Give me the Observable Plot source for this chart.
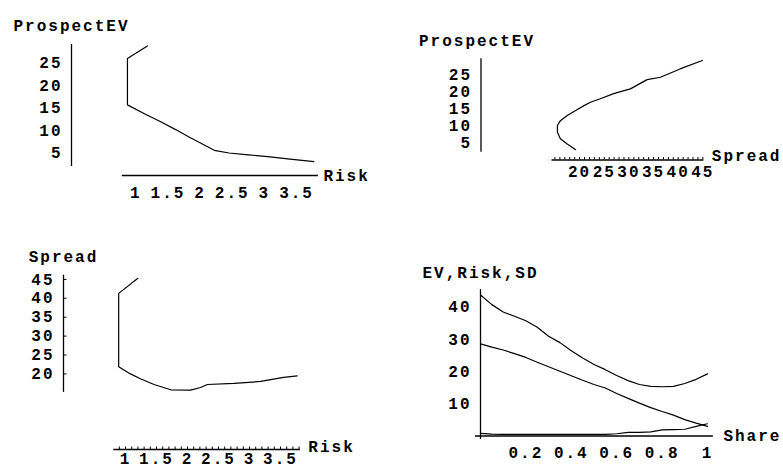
<!DOCTYPE html>
<html><head><meta charset="utf-8">
<script src="https://cdn.jsdelivr.net/npm/d3@7"></script>
<script src="https://cdn.jsdelivr.net/npm/@observablehq/plot@0.6"></script>
<style>
html,body{margin:0;padding:0;background:#fff;}
#wrap{position:relative;width:783px;height:468px;overflow:hidden;background:#fff;}
#wrap svg{position:absolute;left:0;top:0;}
</style></head><body><div id="wrap"></div>
<script>
// ---- Panel 1: ProspectEV vs Risk ----
const p1Risk = [1.18, 0.87, 0.87, 1.15, 1.38, 1.62, 1.82, 2.05, 2.22, 2.45, 2.75, 3.05, 3.40, 3.77];
const p1EV   = [28.8, 26.0, 15.7, 13.6, 12.0, 10.2, 8.6, 6.9, 5.6, 5.0, 4.6, 4.2, 3.65, 3.1];
const p1XTicks = [1, 1.5, 2, 2.5, 3, 3.5];
const p1XLabels = ["1", "1.5", "2", "2.5", "3", "3.5"];
const p1YTicks = [5, 10, 15, 20, 25];
const p1YLabels = ["5", "10", "15", "20", "25"];

// ---- Panel 2: ProspectEV vs Spread ----
const p2Spread = [44.9, 40.5, 36.4, 33.7, 30.3, 26.9, 24.2, 22.2, 20.9, 19.2, 17.5, 16.1, 15.5, 15.5, 16.1, 17.5, 19.2];
const p2EV     = [29.1, 26.7, 24.2, 23.5, 20.8, 19.4, 17.9, 16.9, 15.9, 14.5, 13.0, 11.5, 10.1, 8.1, 6.2, 4.7, 3.0];
const p2XTicks = [20, 25, 30, 35, 40, 45];
const p2XLabels = ["20", "25", "30", "35", "40", "45"];
const p2MinorTicks = [15,16,17,18,19,20,21,22,23,24,25,26,27,28,29,30,31,32,33,34,35,36,37,38,39,40,41,42,43,44,45];
const p2YTicks = [5, 10, 15, 20, 25];
const p2YLabels = ["5", "10", "15", "20", "25"];

// ---- Panel 3: Spread vs Risk ----
const p3Risk   = [1.20, 0.89, 0.89, 1.08, 1.24, 1.46, 1.73, 2.05, 2.21, 2.32, 2.75, 3.18, 3.55, 3.77];
const p3Spread = [45.3, 41.3, 21.9, 20.0, 18.7, 17.2, 15.8, 15.7, 16.4, 17.2, 17.5, 18.0, 19.1, 19.5];
const p3XTicks = [1, 1.5, 2, 2.5, 3, 3.5];
const p3XLabels = ["1", "1.5", "2", "2.5", "3", "3.5"];
const p3MinorTicks = [0.9,1.0,1.1,1.2,1.3,1.4,1.5,1.6,1.7,1.8,1.9,2.0,2.1,2.2,2.3,2.4,2.5,2.6,2.7,2.8,2.9,3.0,3.1,3.2,3.3,3.4,3.5,3.6,3.7,3.8];
const p3YTicks = [20, 25, 30, 35, 40, 45];
const p3YLabels = ["20", "25", "30", "35", "40", "45"];

// ---- Panel 4: EV, Risk, SD vs Share ----
const p4Share = [0, 0.05, 0.1, 0.15, 0.2, 0.25, 0.3, 0.35, 0.4, 0.45, 0.5, 0.55, 0.6, 0.65, 0.7, 0.75, 0.8, 0.85, 0.9, 0.95, 1.0];
const p4SD    = [43.8, 40.8, 38.5, 37.2, 35.8, 33.8, 31.0, 29.0, 26.5, 24.2, 22.2, 20.6, 18.8, 17.2, 16.0, 15.4, 15.3, 15.4, 16.3, 17.6, 19.3];
const p4EV    = [28.6, 27.6, 26.7, 25.6, 24.4, 22.9, 21.5, 20.1, 18.7, 17.3, 16.0, 14.9, 13.2, 11.7, 10.2, 8.8, 7.6, 6.5, 5.1, 4.0, 3.0];
const p4Risk  = [0.8, 0.6, 0.5, 0.5, 0.5, 0.5, 0.5, 0.5, 0.5, 0.5, 0.5, 0.5, 0.7, 1.1, 1.1, 1.3, 1.9, 2.0, 2.1, 3.0, 3.8];
const p4XTicks = [0.2, 0.4, 0.6, 0.8, 1];
const p4XLabels = ["0.2", "0.4", "0.6", "0.8", "1"];
const p4YTicks = [10, 20, 30, 40];
const p4YLabels = ["10", "20", "30", "40"];

const FONT = "font-family:'Liberation Mono','DejaVu Sans Mono',monospace;font-weight:bold;font-size:16px;letter-spacing:2px;";

function panel(cfg) {
  const [x0, x1] = cfg.xAxis;   // x-axis extent (data units)
  const [y0, y1] = cfg.yAxis;   // y-axis extent (data units)
  const pxPerY = Math.abs(cfg.yRange[0] - cfg.yRange[1]) / Math.abs(cfg.yDomain[1] - cfg.yDomain[0]);
  const pxPerX = Math.abs(cfg.xRange[1] - cfg.xRange[0]) / Math.abs(cfg.xDomain[1] - cfg.xDomain[0]);
  const marks = [
    Plot.ruleY([0], {x1: x0, x2: x1, stroke: "black", strokeWidth: 1.3}),
    Plot.ruleX([0], {y1: y0, y2: y1, stroke: "black", strokeWidth: 1.3})
  ];
  if (cfg.minorX) {
    marks.push(Plot.ruleX(cfg.minorX, {x: d => d, y1: 0, y2: 2.5 / pxPerY, stroke: "black", strokeWidth: 1}));
  }
  if (cfg.yTickMarks) {
    marks.push(Plot.ruleY(cfg.yTicks, {y: d => d, x1: 0, x2: 3.5 / pxPerX, stroke: "black", strokeWidth: 1}));
  }
  for (const s of cfg.series) {
    marks.push(Plot.line(s.x.map((v, i) => ({x: v, y: s.y[i]})), {x: "x", y: "y", stroke: "black", strokeWidth: 1.2, curve: "linear"}));
  }
  marks.push(
    Plot.text(cfg.xTicks, {x: d => d, y: 0, dy: cfg.xLabelDy, text: (d, i) => cfg.xLabels[i], textAnchor: "middle"}),
    Plot.text(cfg.yTicks, {x: 0, y: d => d, dx: -9, text: (d, i) => cfg.yLabels[i], textAnchor: "end"}),
    Plot.text([cfg.yTitle], {x: 0, y: y1, dy: cfg.yTitleDy, dx: cfg.yTitleDx || 0, text: d => d, textAnchor: "middle"}),
    Plot.text([cfg.xTitle], {x: x1, y: 0, dx: cfg.xTitleDx, dy: cfg.xTitleDy || 0, text: d => d, textAnchor: "start"})
  );
  return Plot.plot({
    width: 783, height: 468, margin: 0,
    style: FONT + "background:none;color:black;overflow:visible;",
    x: {domain: cfg.xDomain, range: cfg.xRange, axis: null},
    y: {domain: cfg.yDomain, range: cfg.yRange, axis: null},
    marks
  });
}

const wrap = document.getElementById("wrap");

wrap.appendChild(panel({
  xDomain: [0, 4], xRange: [71, 328.2],
  yDomain: [0, 30], yRange: [175, 40],
  xAxis: [0.79, 3.84], yAxis: [2.0, 29.1],
  series: [{x: p1Risk, y: p1EV}],
  xTicks: p1XTicks, xLabels: p1XLabels, xLabelDy: 17,
  yTicks: p1YTicks, yLabels: p1YLabels,
  yTitle: "ProspectEV", yTitleDy: -19,
  xTitle: "Risk", xTitleDx: 5
}));

wrap.appendChild(panel({
  xDomain: [0, 50], xRange: [480.5, 727],
  yDomain: [0, 30], yRange: [159.5, 56.9],
  xAxis: [14.4, 45.2], yAxis: [2.3, 29.6],
  minorX: p2MinorTicks,
  series: [{x: p2Spread, y: p2EV}],
  xTicks: p2XTicks, xLabels: p2XLabels, xLabelDy: 12,
  yTicks: p2YTicks, yLabels: p2YLabels,
  yTitle: "ProspectEV", yTitleDy: -18, yTitleDx: -4,
  xTitle: "Spread", xTitleDx: 8, xTitleDy: -4
}));

wrap.appendChild(panel({
  xDomain: [0, 4], xRange: [63, 311],
  yDomain: [0, 50], yRange: [449, 260],
  xAxis: [0.81, 3.82], yAxis: [15.1, 46.1],
  minorX: p3MinorTicks, yTickMarks: true,
  series: [{x: p3Risk, y: p3Spread}],
  xTicks: p3XTicks, xLabels: p3XLabels, xLabelDy: 9,
  yTicks: p3YTicks, yLabels: p3YLabels,
  yTitle: "Spread", yTitleDy: -18,
  xTitle: "Risk", xTitleDx: 8, xTitleDy: -3
}));

wrap.appendChild(panel({
  xDomain: [0, 1], xRange: [480, 707],
  yDomain: [0, 45], yRange: [435.5, 290.6],
  xAxis: [-0.022, 1.026], yAxis: [-1.1, 45.5],
  series: [{x: p4Share, y: p4SD}, {x: p4Share, y: p4EV}, {x: p4Share, y: p4Risk}],
  xTicks: p4XTicks, xLabels: p4XLabels, xLabelDy: 17,
  yTicks: p4YTicks, yLabels: p4YLabels,
  yTitle: "EV,Risk,SD", yTitleDy: -17,
  xTitle: "Share", xTitleDx: 10
}));
</script>
</body></html>
